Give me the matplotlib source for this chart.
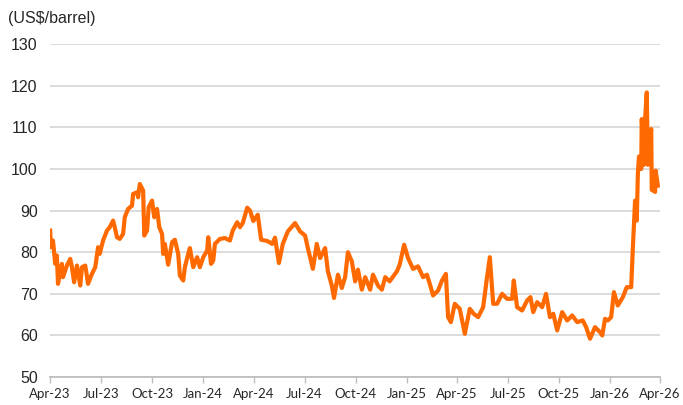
import matplotlib
matplotlib.use("Agg")
import matplotlib.pyplot as plt
import matplotlib.dates as mdates
import numpy as np
import pandas as pd

# days after 2023-04-01 and Brent price (US$/barrel)
days = [0, 1, 5, 9, 12, 14, 21, 23, 30, 36, 39, 43, 48, 54, 57, 63, 68, 75, 81, 86,
        89, 95, 102, 107, 113, 116, 120, 125, 131, 134, 140, 147, 149, 156, 158, 161, 167, 169, 174, 177,
        183, 187, 192, 196, 201, 203, 206, 212, 219, 224, 230, 233, 239, 242, 248, 251, 257, 264, 269, 275,
        282, 284, 289, 293, 296, 305, 314, 323, 328, 336, 341, 346, 354, 359, 365, 373, 379, 390, 399, 404,
        411, 418, 427, 440, 449, 458, 463, 472, 479, 485, 494, 499, 506, 510, 517, 524, 530, 535, 542, 548,
        553, 560, 566, 575, 580, 589, 596, 602, 610, 623, 628, 636, 643, 652, 661, 670, 677, 683, 688, 697,
        704, 711, 715, 720, 727, 736, 745, 754, 761, 769, 778, 785, 790, 796, 803, 812, 821, 830, 833, 839,
        848, 857, 863, 868, 875, 884, 891, 898, 904, 911, 920, 929, 938, 947, 957, 963, 970, 979, 988, 992,
        997, 1002, 1008, 1013, 1020, 1029, 1036, 1044, 1047, 1051, 1054, 1056, 1058, 1062, 1063, 1067, 1069, 1072, 1074, 1080,
        1081, 1087, 1088, 1092]
price = [85.2, 81.2, 82.8, 77.2, 79.2, 72.4, 77.2, 74.0, 76.8, 78.4, 76.4, 72.8, 76.8, 72.0, 76.4, 76.8, 72.4, 74.8, 76.4, 81.2,
         79.6, 82.8, 85.2, 86.0, 87.6, 86.0, 83.6, 83.2, 84.4, 88.4, 90.4, 91.2, 94.0, 94.4, 93.2, 96.4, 94.8, 84.0, 85.2, 90.8,
         92.4, 88.4, 90.4, 86.0, 84.4, 79.6, 82.0, 77.0, 82.4, 83.0, 79.6, 74.4, 73.2, 76.4, 79.6, 81.0, 76.4, 78.8, 76.4, 78.8,
         80.4, 83.6, 77.2, 78.0, 82.0, 83.2, 83.4, 82.8, 85.2, 87.2, 86.0, 87.0, 90.7, 90.0, 87.5, 89.0, 83.0, 82.7, 82.0, 83.5,
         77.4, 82.0, 85.0, 87.0, 85.0, 84.0, 81.0, 76.0, 82.0, 78.6, 81.0, 75.4, 72.0, 69.0, 74.6, 71.4, 74.0, 80.0, 77.8, 73.0,
         75.8, 71.0, 74.0, 71.0, 74.6, 72.0, 71.0, 74.0, 73.0, 75.4, 77.0, 81.8, 78.6, 76.0, 76.6, 74.0, 74.6, 72.0, 69.6, 70.8,
         73.2, 74.8, 64.4, 63.2, 67.6, 66.4, 60.4, 66.4, 65.2, 64.4, 66.8, 74.0, 78.8, 67.6, 67.6, 70.0, 68.8, 68.8, 73.2, 66.8,
         66.0, 68.4, 69.2, 65.6, 68.0, 66.8, 70.0, 64.4, 65.2, 61.2, 65.6, 63.6, 64.8, 63.2, 63.6, 62.0, 59.2, 62.0, 60.8, 60.0,
         64.0, 63.6, 64.4, 70.4, 67.2, 69.2, 71.6, 71.6, 81.0, 92.4, 87.6, 98.8, 103.0, 100.0, 112.0, 101.0, 112.0, 118.4, 101.0, 109.6,
         95.0, 94.5, 99.6, 96.0]

y_ticks = [50, 60, 70, 80, 90, 100, 110, 120, 130]
x_ticks = pd.date_range("2023-04-01", "2026-04-01", freq="QS")

dates = pd.Timestamp("2023-04-01") + pd.to_timedelta(days, unit="D")

fig = plt.figure(figsize=(6.83, 4.05), dpi=100)
ax = fig.add_axes([0.0735, 0.069, 0.893, 0.822])

ax.plot(dates, price, color="#FF6A00", linewidth=3.0, solid_joinstyle="round", zorder=3)

ax.set_ylim(50, 130)
ax.set_yticks(y_ticks)
ax.set_xlim(x_ticks[0], x_ticks[-1])
ax.set_xticks(x_ticks)
ax.xaxis.set_major_formatter(mdates.DateFormatter("%b-%y"))

ax.grid(axis="y", color="#d9d9d9", linewidth=1.3)
ax.set_axisbelow(True)
for s in ["top", "right", "left"]:
    ax.spines[s].set_visible(False)
ax.spines["bottom"].set_color("#bfbfbf")
ax.spines["bottom"].set_linewidth(1.3)

ax.tick_params(axis="y", length=0, pad=9, labelsize=11.5, labelcolor="#262626")
ax.tick_params(axis="x", length=4, width=1, color="#bfbfbf", pad=4,
               labelsize=9.5, labelcolor="#262626")
for lab in ax.get_yticklabels():
    lab.set_family("Liberation Sans")
for lab in ax.get_xticklabels():
    lab.set_family("Lato")

fig.text(0.012, 0.955, "(US$/barrel)", fontsize=11.5, family="Liberation Sans",
         color="#262626", va="center", ha="left")

fig.savefig("out.png", dpi=100)
